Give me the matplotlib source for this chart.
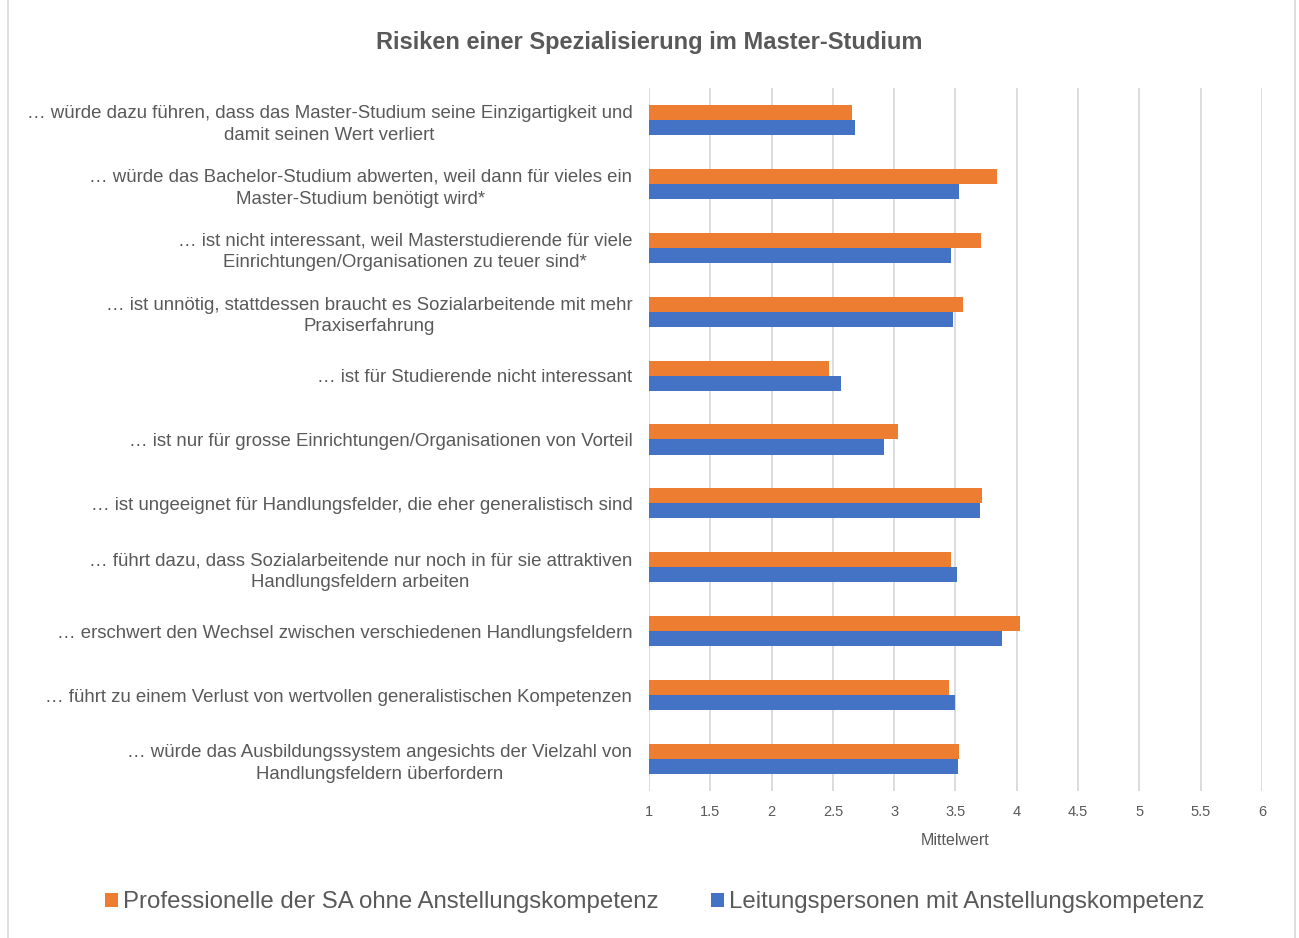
import numpy as np
import matplotlib
matplotlib.use("Agg")
import matplotlib.pyplot as plt
from matplotlib.patches import Rectangle

plt.rcParams['font.family'] = ['Liberation Sans', 'DejaVu Sans']

kategorien = [
    "… würde dazu führen, dass das Master-Studium seine Einzigartigkeit und\ndamit seinen Wert verliert",
    "… würde das Bachelor-Studium abwerten, weil dann für vieles ein\nMaster-Studium benötigt wird*",
    "… ist nicht interessant, weil Masterstudierende für viele\nEinrichtungen/Organisationen zu teuer sind*",
    "… ist unnötig, stattdessen braucht es Sozialarbeitende mit mehr\nPraxiserfahrung",
    "… ist für Studierende nicht interessant",
    "… ist nur für grosse Einrichtungen/Organisationen von Vorteil",
    "… ist ungeeignet für Handlungsfelder, die eher generalistisch sind",
    "… führt dazu, dass Sozialarbeitende nur noch in für sie attraktiven\nHandlungsfeldern arbeiten",
    "… erschwert den Wechsel zwischen verschiedenen Handlungsfeldern",
    "… führt zu einem Verlust von wertvollen generalistischen Kompetenzen",
    "… würde das Ausbildungssystem angesichts der Vielzahl von\nHandlungsfeldern überfordern",
]
professionelle = [2.66, 3.84, 3.71, 3.56, 2.47, 3.03, 3.72, 3.46, 4.03, 3.45, 3.53]
leitung = [2.68, 3.53, 3.46, 3.48, 2.57, 2.92, 3.70, 3.51, 3.88, 3.50, 3.52]
xticks = [1, 1.5, 2, 2.5, 3, 3.5, 4, 4.5, 5, 5.5, 6]

orange = "#ED7D31"
blau = "#4472C4"
grau = "#595959"

fig = plt.figure(figsize=(12.99, 9.38), dpi=100)
ax = fig.add_axes([0.4996, 0.1567, 0.4719, 0.7495])

y = np.arange(len(kategorien))
h = 0.235
ax.barh(y - h / 2, np.array(professionelle) - 1, left=1, height=h, color=orange,
        label="Professionelle der SA ohne Anstellungskompetenz", zorder=3)
ax.barh(y + h / 2, np.array(leitung) - 1, left=1, height=h, color=blau,
        label="Leitungspersonen mit Anstellungskompetenz", zorder=3)

ax.set_xlim(1, 6)
ax.set_ylim(len(kategorien) - 0.5, -0.5)
ax.set_xticks(xticks)
ax.set_xticklabels([f"{t:g}" for t in xticks])
ax.set_yticks(y)
ax.set_yticklabels(kategorien)
for lab in ax.get_yticklabels():
    lab.set_multialignment("center")
    lab.set_linespacing(1.36)
ax.tick_params(axis="y", length=0, pad=12, labelsize=13.4, colors=grau)
ax.tick_params(axis="x", length=0, pad=10, labelsize=10.5, colors=grau)
ax.xaxis.grid(True, color="#D9D9D9", linewidth=1.3, zorder=0)
for s in ax.spines.values():
    s.set_visible(False)
ax.set_xlabel("Mittelwert", fontsize=11.5, color=grau, labelpad=10)

fig.text(0.5, 0.955, "Risiken einer Spezialisierung im Master-Studium",
         ha="center", va="center", fontsize=17, fontweight="bold", color=grau)

leg = fig.legend(loc="center", bbox_to_anchor=(0.504, 0.038), ncol=2, frameon=False,
                 fontsize=17.3, handlelength=0.55, handleheight=0.55, handletextpad=0.2,
                 columnspacing=2.2)
for t in leg.get_texts():
    t.set_color(grau)

fig.patches.append(Rectangle((0.006, -0.01), 0.991, 1.02, transform=fig.transFigure,
                             fill=False, edgecolor="#D9D9D9", linewidth=1.2))

fig.savefig("out.png", dpi=100, facecolor="white")
